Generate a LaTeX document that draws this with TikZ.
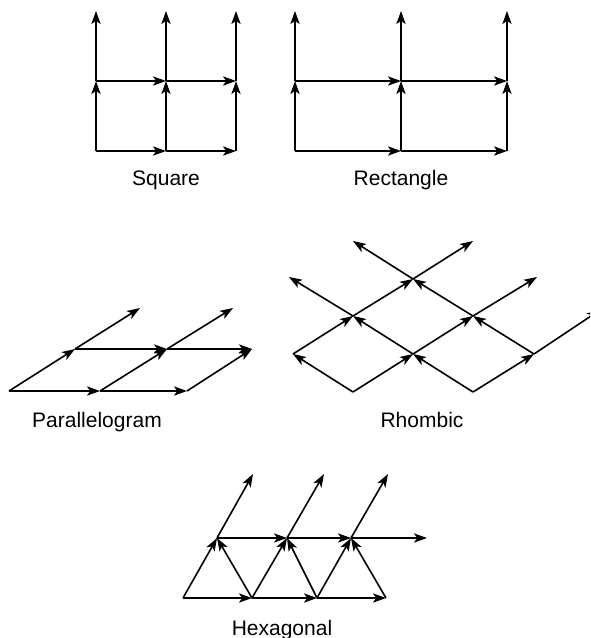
\documentclass[tikz,border=0pt]{standalone}
\usepackage{fontspec}
\setmainfont{Liberation Sans}
\usetikzlibrary{arrows.meta}
\tikzset{
  lat/.style={->,line width=0.8pt},
  lab/.style={anchor=base,font=\fontsize{10.5}{12}\selectfont}
}
\begin{document}
\begin{tikzpicture}[x=0.5pt,y=-0.5pt,>={Stealth[length=6.5pt,width=4.6pt,inset=1.6pt]}]
\clip (0,0) rectangle (590,638);
\foreach \i/\x/\xr in {0/96/295,1/166/401,2/236/507}{
  \coordinate (s0\i) at (\x,151);
  \coordinate (s1\i) at (\x,81);
  \coordinate (s2\i) at (\x,11);
  \coordinate (r0\i) at (\xr,151);
  \coordinate (r1\i) at (\xr,81);
  \coordinate (r2\i) at (\xr,11);
}
\foreach \i/\j in {0/1,1/2}{
  \draw[lat] (s0\i) -- (s0\j);
  \draw[lat] (s1\i) -- (s1\j);
  \draw[lat] (r0\i) -- (r0\j);
  \draw[lat] (r1\i) -- (r1\j);
}
\foreach \i in {0,1,2}{
  \draw[lat] (s0\i) -- (s1\i);
  \draw[lat] (s1\i) -- (s2\i);
  \draw[lat] (r0\i) -- (r1\i);
  \draw[lat] (r1\i) -- (r2\i);
}
\node[lab] (square) at (166,185) {Square};
\node[lab] (rectangle) at (401,185) {Rectangle};
\foreach \n/\x/\y in {p00/9/391,p01/100/391,p02/187/391,p10/75/349,p11/167/349,p12/252/349,p20/140/308,p21/233/308}
  \coordinate (\n) at (\x,\y);
\foreach \a/\b in {p00/p01,p01/p02,p00/p10,p01/p11,p02/p12,p10/p11,p11/p12,p10/p20,p11/p21}
  \draw[lat] (\a) -- (\b);
\node[lab] (parallelogram) at (97,427) {Parallelogram};
\foreach \n/\x/\y in {h00/353/392,h01/473/392,h10/293/354,h11/413/354,h12/534/354,h20/353/316,h21/473/316,h30/413/279,
  t0/289/277,t1/537/277,t2/353/241,t3/473/241,t4/600/310}
  \coordinate (\n) at (\x,\y);
\foreach \a/\b in {h00/h10,h00/h11,h01/h11,h01/h12,h10/h20,h11/h20,h11/h21,h12/h21,h12/t4,
  h20/t0,h20/h30,h21/h30,h21/t1,h30/t2,h30/t3}
  \draw[lat] (\a) -- (\b);
\node[lab] (rhombic) at (422,427) {Rhombic};
\foreach \n/\x/\y in {x0/183/598,x1/252/598,x2/317/598,x3/386/598,m0/217/538,m1/287/538,m2/351/538,
  me/427/538,u0/253/474,u1/324/474,u2/388/474}
  \coordinate (\n) at (\x,\y);
\foreach \a/\b in {x0/x1,x1/x2,x2/x3,x0/m0,x1/m0,x1/m1,x2/m1,x2/m2,x3/m2,m0/m1,m1/m2,m2/me,m0/u0,m1/u1,m2/u2}
  \draw[lat] (\a) -- (\b);
\node[lab] (hexagonal) at (282,635) {Hexagonal};
\end{tikzpicture}
\end{document}
